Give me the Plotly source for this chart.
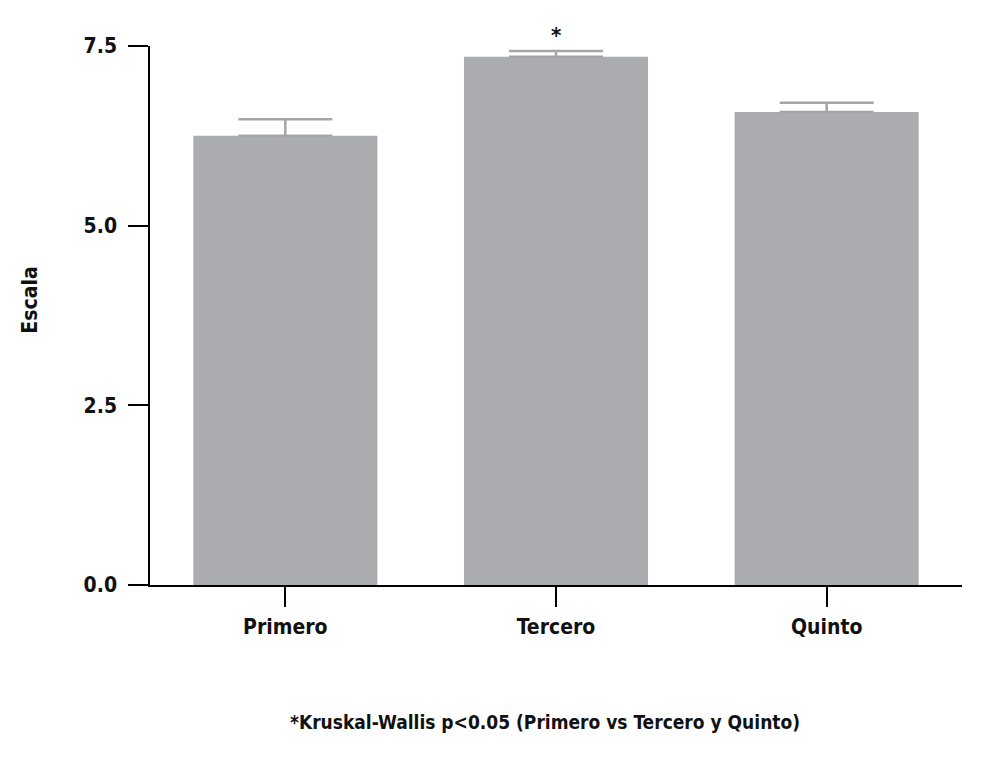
import plotly.graph_objects as go

# values
grades = ["Primero", "Tercero", "Quinto"]
means = [6.25, 7.35, 6.58]
errors = [0.23, 0.08, 0.13]
y_ticks = [0.0, 2.5, 5.0, 7.5]
y_tick_text = ["0.0", "2.5", "5.0", "7.5"]

FONT = "DejaVu Sans Condensed, Liberation Sans Narrow, sans-serif"
BAR_GREY = "#abacb0"

fig = go.Figure(
    go.Bar(
        x=grades,
        y=means,
        width=0.68,
        marker=dict(color=BAR_GREY, line=dict(width=0)),
        error_y=dict(
            type="data",
            array=errors,
            symmetric=False,
            arrayminus=[0, 0, 0],
            color="#a4a5a9",
            thickness=2.5,
            width=47,
        ),
        showlegend=False,
    )
)

# the page body adds an 8px margin, so the figure is 16px smaller than the window
fig.update_layout(
    width=975,
    height=750,
    margin=dict(l=142, r=21, t=38, b=173),
    paper_bgcolor="white",
    plot_bgcolor="white",
    font=dict(family=FONT, size=21, color="#111111", weight="bold"),
)

fig.update_xaxes(
    range=[-0.5, 2.5],
    showline=True,
    linecolor="black",
    linewidth=1.5,
    ticks="outside",
    ticklen=20,
    tickwidth=1.5,
    tickcolor="black",
    ticklabelstandoff=2,
    showgrid=False,
    zeroline=False,
)

fig.update_yaxes(
    range=[0, 7.5],
    tickvals=y_ticks,
    ticktext=y_tick_text,
    showline=True,
    linecolor="black",
    linewidth=1.5,
    ticks="outside",
    ticklen=20,
    tickwidth=1.5,
    tickcolor="black",
    ticklabelstandoff=7,
    showgrid=False,
    zeroline=False,
)

fig.add_annotation(
    text="Escala",
    textangle=-90,
    xref="paper",
    yref="paper",
    x=-0.148,
    y=0.529,
    xanchor="center",
    yanchor="middle",
    showarrow=False,
    font=dict(family=FONT, size=21, weight="bold"),
)

# significance marker above Tercero
fig.add_annotation(
    text="*",
    x="Tercero",
    y=means[1] + errors[1],
    yanchor="bottom",
    yshift=1,
    showarrow=False,
    font=dict(family=FONT, size=22, weight="bold"),
)

fig.add_annotation(
    text="*Kruskal-Wallis p<0.05 (Primero vs Tercero y Quinto)",
    xref="paper",
    yref="paper",
    x=0.486,
    y=-0.254,
    xanchor="center",
    yanchor="middle",
    showarrow=False,
    font=dict(family=FONT, size=19, weight="bold"),
)

fig.write_html("out.html")
